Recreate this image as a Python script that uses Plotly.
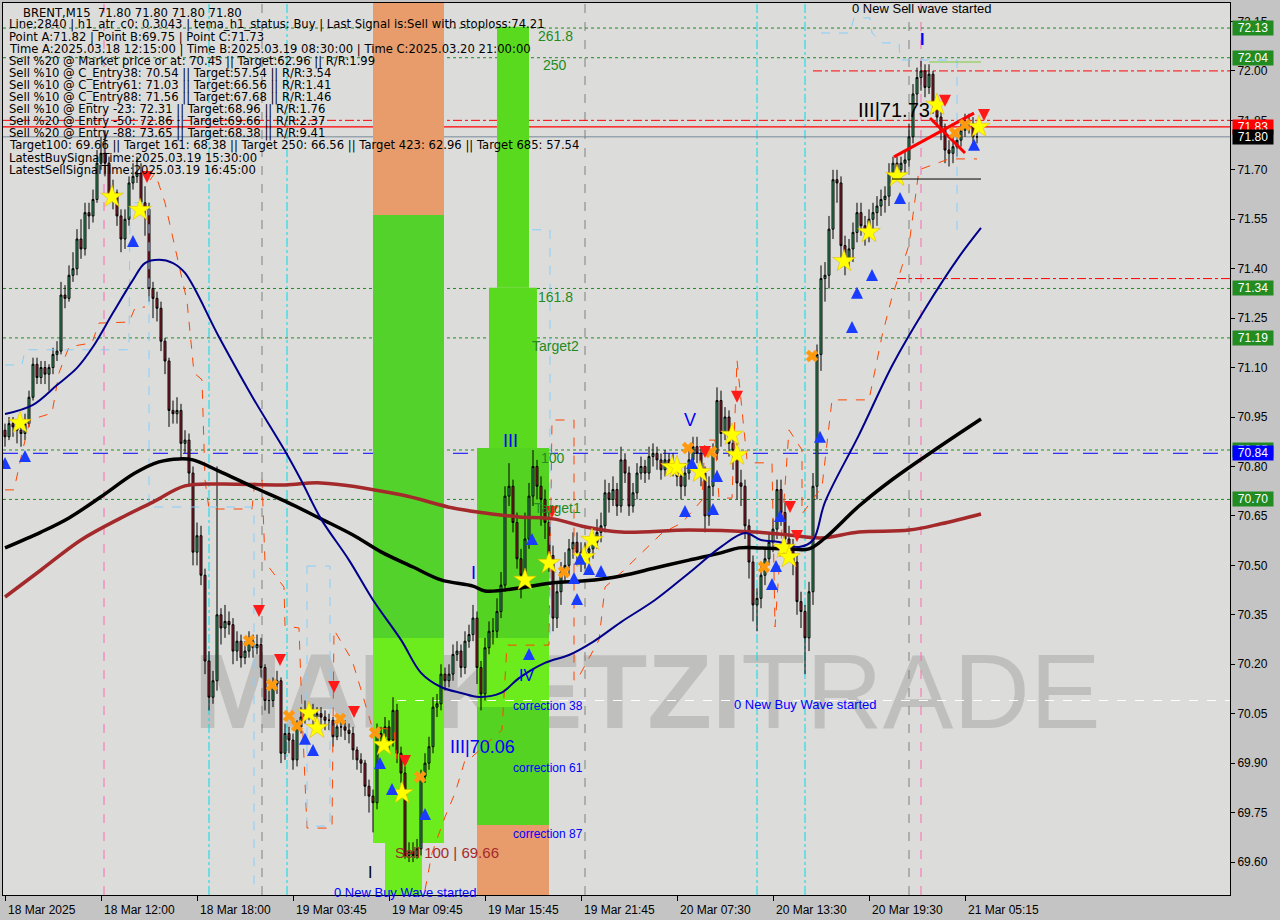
import plotly.graph_objects as go

# ---------------- DATA ----------------
first_open = 70.91
close = [70.89,70.93,70.92,70.91,70.90,70.93,71.01,71.11,71.07,71.10,
         71.08,71.10,71.14,71.15,71.32,71.31,71.38,71.40,71.49,71.46,
         71.57,71.56,71.61,71.72,71.75,71.72,71.62,71.63,71.56,71.49,
         71.55,71.66,71.68,71.69,71.60,71.58,71.34,71.31,71.28,71.18,
         71.12,70.97,70.96,70.97,70.87,70.88,70.78,70.54,70.59,70.47,
         70.21,70.10,70.15,70.35,70.31,70.33,70.32,70.24,70.27,70.22,
         70.24,70.27,70.25,70.26,70.19,70.09,70.09,70.14,70.15,69.93,
         69.99,69.97,69.91,70.01,70.04,70.06,70.06,70.04,70.05,70.04,
         70.03,70.03,69.98,70.01,70.01,70.00,69.99,69.94,69.91,69.90,
         69.83,69.80,69.78,69.99,69.98,70.01,69.97,70.06,69.93,69.87,
         69.62,69.63,69.62,69.64,69.86,69.90,69.95,70.07,70.08,70.17,
         70.15,70.17,70.23,70.24,70.19,70.27,70.29,70.34,70.19,70.11,
         70.25,70.30,70.30,70.36,70.44,70.71,70.74,70.63,70.52,70.47,
         70.58,70.71,70.80,70.74,70.70,70.63,70.53,70.34,70.42,70.48,
         70.50,70.55,70.57,70.54,70.52,70.54,70.55,70.57,70.60,70.62,
         70.72,70.70,70.73,70.68,70.82,70.78,70.68,70.72,70.78,70.80,
         70.78,70.83,70.84,70.82,70.79,70.82,70.81,70.80,70.77,70.74,
         70.78,70.82,70.86,70.84,70.78,70.65,70.74,70.84,71.00,70.90,
         70.95,70.87,70.85,70.75,70.74,70.62,70.51,70.38,70.40,70.47,
         70.52,70.57,70.61,70.73,70.66,70.58,70.56,70.51,70.39,70.36,
         70.28,70.42,70.74,71.14,71.37,71.38,71.52,71.67,71.66,71.47,
         71.43,71.46,71.51,71.57,71.53,71.51,71.55,71.57,71.59,71.61,
         71.62,71.69,71.72,71.70,71.72,71.73,71.80,71.93,71.98,72.00,
         71.95,71.99,71.90,71.86,71.82,71.76,71.75,71.77,71.79,71.82,
         71.84,71.84,71.80,71.80]
high = [70.93,70.95,70.95,70.94,70.93,70.96,71.03,71.13,71.13,71.12,
        71.12,71.11,71.16,71.18,71.36,71.35,71.41,71.45,71.52,71.55,
        71.60,71.60,71.64,71.76,71.80,71.82,71.74,71.67,71.64,71.58,
        71.58,71.68,71.72,71.74,71.72,71.65,71.60,71.36,71.33,71.30,
        71.19,71.13,71.00,71.01,70.99,70.91,70.90,70.80,70.63,70.62,
        70.49,70.24,70.18,70.80,70.37,70.38,70.36,70.34,70.30,70.29,
        70.27,70.30,70.29,70.29,70.28,70.20,70.12,70.16,70.18,70.16,
        70.02,70.01,69.99,70.03,70.07,70.09,70.08,70.08,70.07,70.07,
        70.06,70.05,70.04,70.03,70.03,70.03,70.02,70.01,69.95,69.93,
        69.91,69.85,69.82,70.02,70.01,70.04,70.03,70.10,70.08,69.95,
        69.89,69.66,69.66,69.67,69.88,69.93,69.98,70.10,70.11,70.20,
        70.19,70.20,70.26,70.27,70.26,70.30,70.32,70.38,70.36,70.21,
        70.28,70.33,70.34,70.40,70.48,70.74,70.81,70.76,70.66,70.55,
        70.66,70.75,70.85,70.82,70.77,70.73,70.66,70.56,70.45,70.51,
        70.54,70.58,70.60,70.60,70.57,70.57,70.58,70.60,70.64,70.66,
        70.76,70.75,70.77,70.75,70.86,70.84,70.80,70.75,70.81,70.83,
        70.82,70.86,70.87,70.86,70.84,70.85,70.84,70.84,70.82,70.79,
        70.81,70.85,70.89,70.89,70.86,70.80,70.77,70.87,71.04,71.03,
        70.98,70.97,70.90,70.87,70.79,70.76,70.64,70.53,70.43,70.50,
        70.55,70.60,70.64,70.76,70.76,70.69,70.62,70.58,70.53,70.42,
        70.38,70.45,70.78,71.17,71.41,71.42,71.56,71.70,71.70,71.68,
        71.50,71.49,71.54,71.60,71.60,71.56,71.58,71.60,71.62,71.64,
        71.65,71.72,71.74,71.74,71.74,71.76,71.84,71.96,72.01,72.03,
        72.02,72.02,72.00,71.92,71.88,71.84,71.79,71.80,71.82,71.84,
        71.87,71.87,71.86,71.83]
low = [70.86,70.88,70.89,70.87,70.86,70.88,70.92,71.00,71.05,71.05,
       71.05,71.03,71.08,71.12,71.14,71.28,71.30,71.36,71.38,71.43,
       71.44,71.52,71.54,71.60,71.70,71.68,71.60,71.58,71.53,71.45,
       71.46,71.53,71.64,71.66,71.57,71.50,71.30,71.25,71.24,71.15,
       71.08,70.92,70.93,70.93,70.82,70.84,70.74,70.50,70.50,70.44,
       70.17,70.06,70.08,70.12,70.26,70.28,70.29,70.20,70.21,70.19,
       70.20,70.22,70.22,70.23,70.16,70.06,70.05,70.07,70.11,69.90,
       69.91,69.93,69.88,69.89,69.99,70.02,70.03,70.01,70.02,70.01,
       70.00,70.00,69.95,69.97,69.98,69.97,69.96,69.91,69.88,69.87,
       69.80,69.75,69.69,69.76,69.94,69.96,69.94,69.95,69.90,69.84,
       69.61,69.60,69.60,69.61,69.62,69.84,69.88,69.93,70.04,70.06,
       70.12,70.13,70.15,70.21,70.16,70.17,70.25,70.27,70.14,70.06,
       70.09,70.23,70.26,70.28,70.34,70.42,70.68,70.60,70.49,70.40,
       70.44,70.55,70.68,70.70,70.62,70.58,70.48,70.30,70.31,70.38,
       70.45,70.47,70.52,70.50,70.48,70.49,70.51,70.52,70.55,70.57,
       70.60,70.66,70.68,70.65,70.66,70.75,70.65,70.66,70.70,70.76,
       70.75,70.76,70.80,70.79,70.76,70.77,70.78,70.77,70.74,70.70,
       70.71,70.76,70.80,70.81,70.74,70.60,70.62,70.71,70.82,70.86,
       70.88,70.83,70.79,70.70,70.68,70.58,70.46,70.33,70.30,70.37,
       70.44,70.50,70.54,70.58,70.62,70.54,70.52,70.47,70.35,70.31,
       70.17,70.24,70.38,70.70,71.09,71.30,71.34,71.49,71.60,71.42,
       71.38,71.40,71.42,71.48,71.50,71.47,71.48,71.52,71.53,71.56,
       71.57,71.59,71.66,71.67,71.68,71.69,71.71,71.78,71.90,71.94,
       71.92,71.93,71.87,71.83,71.79,71.72,71.71,71.72,71.74,71.77,
       71.80,71.81,71.78,71.78]

tick_idx = [0, 24, 48, 72, 96, 120, 144, 168, 192, 216, 240]
tick_text = ["18 Mar 2025", "18 Mar 12:00", "18 Mar 18:00", "19 Mar 03:45", "19 Mar 09:45",
             "19 Mar 15:45", "19 Mar 21:45", "20 Mar 07:30", "20 Mar 13:30", "20 Mar 19:30",
             "21 Mar 05:15"]
price_ticks = [69.60, 69.75, 69.90, 70.05, 70.20, 70.35, 70.50, 70.65, 70.80, 70.95,
               71.10, 71.25, 71.40, 71.55, 71.70, 71.85, 72.00, 72.15]

# moving averages (bar index, price)
ma_blue_x = [0,7,13,18,22,27,32,35,38.5,42,45,53.5,62,70,74,79,86,92,99,104,109,114,118.5,
             124,128.5,135,141,147,154,162.5,171,179,185,189,193.5,198.5,202,205,213.5,222,230,238.5,244]
ma_blue_y = [70.959,70.987,71.047,71.099,71.163,71.266,71.366,71.417,71.427,71.417,71.387,71.193,
             71.008,70.847,70.759,70.641,70.516,70.395,70.274,70.174,70.131,70.113,70.101,70.113,
             70.158,70.204,70.228,70.268,70.328,70.395,70.477,70.556,70.598,70.577,70.571,70.556,
             70.577,70.692,70.896,71.111,71.278,71.436,71.524]
ma_black_x = [0,9,16,24,32.5,38.5,43.5,47,53.5,62,70,79,87,94,102,109,117,120,128.5,137,145,154,
              162.5,171,179,183.5,189,196,201,205,213.5,222,233.5,244]
ma_black_y = [70.553,70.601,70.644,70.708,70.780,70.814,70.823,70.820,70.786,70.738,70.695,70.641,
              70.592,70.541,70.495,70.456,70.437,70.422,70.431,70.447,70.453,70.468,70.492,70.516,
              70.538,70.553,70.553,70.550,70.550,70.583,70.680,70.762,70.859,70.944]
ma_red_x = [0,9,19,29,37,45,53.5,70,79,99,112,120,128.5,137,145,154,171,187.5,196,204,213.5,226,234,244]
ma_red_y = [70.404,70.486,70.577,70.644,70.692,70.741,70.747,70.744,70.750,70.714,70.674,70.659,
            70.647,70.641,70.617,70.601,70.607,70.601,70.592,70.583,70.601,70.607,70.626,70.656]

# trailing-stop style step line (orange dashed)
stop_x = [0,2.25,4.25,6.25,11.75,13.5,16,21.75,23.5,31,32.5,35,None,
          36.25,37.5,40,43.5,45.5,47.25,49.25,50,51,61.75,62.5,64.25,65,69.75,70,73.5,74.25,75.5,81.75,
          82.25,86.75,89.25,91.75,97.25,98,100,None,
          105,106.75,110,112.5,115,116.75,124.25,125.5,136,136.75,142.25,142.25,143,146.75,148.5,150,
          154.25,164.25,169.25,174.25,175,177.5,178.5,181.75,183,185.5,187.25,191.75,192.5,196,199.25,
          199.25,204.25,206.75,216,219.25,221.75,226,228.5,236,243]
stop_y = [70.729,70.729,70.841,70.941,70.962,71.084,71.163,71.175,71.235,71.238,71.281,71.284,None,
          71.669,71.691,71.600,71.408,71.302,71.084,71.063,70.759,70.671,70.671,70.759,70.759,70.510,
          70.434,70.316,70.310,70.055,69.703,69.703,70.304,70.213,70.113,70.010,70.001,69.909,69.909,None,
          69.515,69.627,69.737,69.809,69.909,69.919,70.001,70.258,70.258,70.941,70.941,70.152,70.152,
          70.234,70.274,70.434,70.480,70.598,70.629,70.698,70.880,70.880,70.704,70.704,71.123,70.820,
          70.811,70.811,70.313,70.911,70.850,70.656,70.738,71.002,71.002,71.196,71.314,71.472,71.700,
          71.733,71.733]
# light blue dashed envelope segments
env_x = [0,4.25,5,31,31.25,36,36,62.25,62.25,None,
         75.5,81.25,81.25,75.5,75.5,None,
         131.75,136.25,136.25,None,
         204,211.25,212.25,216.25,216.75,219.25,223.5,223.75,238,238]
env_y = [71.108,71.108,71.154,71.154,71.600,71.600,70.677,70.677,69.515,None,
         70.498,70.498,69.709,69.709,70.498,None,
         71.518,71.518,70.274,None,
         72.115,72.115,72.161,72.161,72.115,72.085,72.085,72.033,72.033,71.518]

# signal markers (bar index, price)
star_x = [3.75,26.75,33.75,76,78,94.75,99.25,130,136,144.75,146.75,166.75,168,173.75,181.75,183,
          194.75,196,209.75,216,223,233,243.5]
star_y = [70.932,71.618,71.578,70.052,70.007,69.955,69.809,70.456,70.507,70.525,70.577,70.798,
          70.798,70.783,70.896,70.835,70.553,70.525,71.423,71.511,71.681,71.897,71.830]
buy_x = [0,5,32,75,77,93.75,96.75,105,131.75,131,142.25,143,143.75,146,149,171.75,178,170,177,
         193.75,192.75,191.75,203.75,211.75,213,216.75,223.75,242.25]
buy_y = [70.829,70.850,71.502,69.992,69.958,69.919,69.840,69.764,70.598,70.249,70.480,70.416,
         70.538,70.507,70.501,70.829,70.789,70.683,70.689,70.668,70.516,70.462,70.908,71.241,
         71.345,71.399,71.633,71.794]
sell_x = [35.5,63.5,68.75,82.25,87.25,100,136.75,183,175,196.25,198,235,244.75]
sell_y = [71.660,70.343,70.195,70.113,70.037,69.888,70.644,70.993,70.826,70.659,70.571,71.891,71.848]
cross_x = [61,66.75,71,73,83.75,92.5,103.75,139.75,170.75,176.5,189.75,201.75,237.5,240]
cross_y = [70.271,70.137,70.043,70.013,70.034,69.992,69.858,70.480,70.856,70.844,70.495,71.135,
           71.812,71.836]

# horizontal levels
green_levels = [72.13, 72.04, 71.34, 71.19, 70.85, 70.70]
blue_level = 70.84
red_dashdot_full = 71.85
red_solid = 71.83
last_price = 71.80
red_dashdot_part = [(202, 72.00), (223, 71.37)]
white_dash = (98, 70.09)

# zone rectangles: (x0, x1, y0, y1, color)
zones = [
    (92, 109.75, 71.563, 72.206, "#e89c6c"),
    (92, 109.75, 70.280, 71.563, "#52d22a"),
    (92, 109.75, 69.658, 70.280, "#6cec1c"),
    (95, 104.25, 69.50, 69.658, "#6cec1c"),
    (123, 131, 71.342, 72.134, "#5ada1e"),
    (121, 133, 70.856, 71.342, "#5ada1e"),
    (118, 136, 69.712, 70.856, "#55d322"),
    (118, 136, 70.07, 70.280, "#6cec1c"),
    (118, 136, 69.50, 69.712, "#e89c6c"),
]
vlines = [(24.75, "#ff69b4", "dash"), (229, "#ff69b4", "dash"),
          (51, "#00dde8", "dashdot"), (70.5, "#00dde8", "dashdot"), (100, "#00dde8", "dashdot"),
          (188, "#00dde8", "dashdot"), (200, "#00dde8", "dashdot"),
          (64.25, "#808080", "dash"), (145, "#808080", "dash"), (226, "#808080", "dash")]

info_lines = [
    "Line:2840 | h1_atr_c0: 0.3043 | tema_h1_status: Buy | Last Signal is:Sell with stoploss:74.21",
    "Point A:71.82 | Point B:69.75 | Point C:71.73",
    "Time A:2025.03.18 12:15:00 | Time B:2025.03.19 08:30:00 | Time C:2025.03.20 21:00:00",
    "Sell %20 @ Market price or at: 70.45 || Target:62.96 || R/R:1.99",
    "Sell %10 @ C_Entry38: 70.54 || Target:57.54 || R/R:3.54",
    "Sell %10 @ C_Entry61: 71.03 || Target:66.56 || R/R:1.41",
    "Sell %10 @ C_Entry88: 71.56 || Target:67.68 || R/R:1.46",
    "Sell %10 @ Entry -23: 72.31 || Target:68.96 || R/R:1.76",
    "Sell %20 @ Entry -50: 72.86 || Target:69.66 || R/R:2.37",
    "Sell %20 @ Entry -88: 73.65 || Target:68.38 || R/R:9.41",
    "Target100: 69.66 || Target 161: 68.38 || Target 250: 66.56 || Target 423: 62.96 || Target 685: 57.54",
    "LatestBuySignalTime:2025.03.19 15:30:00",
    "LatestSellSignalTime:2025.03.19 16:45:00",
]

# chart labels: (x idx, price, text, color, size)
chart_texts = [
    (137.5, 72.106, "261.8", "#228b22", 14), (137.5, 72.018, "250", "#228b22", 14),
    (137.5, 71.314, "161.8", "#228b22", 14), (137.5, 71.166, "Target2", "#228b22", 14),
    (137.0, 70.826, "100", "#228b22", 14), (138.0, 70.674, "Target1", "#228b22", 14),
    (229, 72.188, "0 New Sell wave started", "#000000", 13),
    (229.25, 72.094, "<b>I</b>", "#0000ff", 16),
    (222.25, 71.882, "III|71.73", "#000000", 20),
    (171.25, 70.941, "V", "#0000ff", 18), (126.25, 70.877, "III", "#0000ff", 18),
    (117, 70.477, "I", "#0000ff", 18), (130.25, 70.166, "IV", "#0000ff", 16),
    (135.75, 70.074, "correction 38", "#0000ff", 12),
    (119.25, 69.949, "III|70.06", "#0000ff", 18),
    (135.75, 69.885, "correction 61", "#0000ff", 12),
    (135.75, 69.685, "correction 87", "#0000ff", 12),
    (200, 70.079, "0 New Buy Wave started", "#0000ff", 13),
    (100, 69.509, "0 New Buy Wave started", "#0000ff", 13),
    (110.5, 69.630, "Sell 100 | 69.66", "#a52a2a", 15),
    (91.25, 69.567, "I", "#000000", 16),
]
# sloped wave lines: (x0, y0, x1, y1)
wave_lines = [(222.25, 71.739, 242.25, 71.872), (231.25, 71.857, 240, 71.751)]

# ---------------- FIGURE ----------------
x_idx = list(range(len(close)))
open_ = [first_open] + close[:-1]
high = [max(h, o, c) for h, o, c in zip(high, open_, close)]
low = [min(l, o, c) for l, o, c in zip(low, open_, close)]

fig = go.Figure()
font_main = "Liberation Sans"
font_info = "DejaVu Sans"

fig.add_trace(go.Scatter(x=stop_x, y=stop_y, mode="lines", line=dict(color="#ff4500", width=1, dash="dash"),
                         hoverinfo="skip", connectgaps=False))
fig.add_trace(go.Scatter(x=env_x, y=env_y, mode="lines", line=dict(color="#87cefa", width=1, dash="dash"),
                         hoverinfo="skip", connectgaps=False))
fig.add_trace(go.Scatter(x=ma_red_x, y=ma_red_y, mode="lines", line=dict(color="#a3292b", width=3.5, shape="spline"),
                         hoverinfo="skip"))
fig.add_trace(go.Scatter(x=ma_black_x, y=ma_black_y, mode="lines", line=dict(color="#000000", width=3.5, shape="spline"),
                         hoverinfo="skip"))
fig.add_trace(go.Scatter(x=ma_blue_x, y=ma_blue_y, mode="lines", line=dict(color="#00008b", width=2, shape="spline"),
                         hoverinfo="skip"))

fig.add_trace(go.Candlestick(
    x=x_idx, open=open_, high=high, low=low, close=close,
    increasing=dict(line=dict(color="#000000", width=1), fillcolor="#3cb371"),
    decreasing=dict(line=dict(color="#000000", width=1), fillcolor="#b22234"),
    whiskerwidth=0, hoverinfo="skip"))

for (xa, ya, xb, yb) in wave_lines:
    fig.add_trace(go.Scatter(x=[xa, xb], y=[ya, yb], mode="lines", line=dict(color="#ff0000", width=3),
                             hoverinfo="skip"))

fig.add_trace(go.Scatter(x=cross_x, y=cross_y, mode="markers",
                         marker=dict(symbol="x", size=11, color="#ff9a10", line=dict(width=0)), hoverinfo="skip"))
fig.add_trace(go.Scatter(x=star_x, y=star_y, mode="markers",
                         marker=dict(symbol="star", size=17, color="#ffff00", line=dict(width=0.5, color="#e0b000")),
                         hoverinfo="skip"))
fig.add_trace(go.Scatter(x=buy_x, y=buy_y, mode="markers",
                         marker=dict(symbol="arrow-up", size=12, color="#1a3cff", line=dict(width=0)),
                         hoverinfo="skip"))
fig.add_trace(go.Scatter(x=sell_x, y=sell_y, mode="markers",
                         marker=dict(symbol="arrow-down", size=12, color="#ff1a1a", line=dict(width=0)),
                         hoverinfo="skip"))

shapes = []
for (x0, x1, y0, y1, col) in zones:
    shapes.append(dict(type="rect", xref="x", yref="y", x0=x0, x1=x1, y0=y0, y1=y1,
                       fillcolor=col, line=dict(width=0), layer="below"))
# watermark
shapes.append(dict(type="rect", xref="paper", yref="paper", x0=0.1, x1=0.95, y0=0.19, y1=0.29,
                   line=dict(width=0), fillcolor="rgba(0,0,0,0)", layer="below",
                   label=dict(text="<b>MARKETZI</b>TRADE", textposition="middle center",
                              font=dict(size=106, color="rgba(90,90,90,0.22)", family=font_main))))
for (xv, col, dsh) in vlines:
    shapes.append(dict(type="line", xref="x", yref="paper", x0=xv, x1=xv, y0=0, y1=1,
                       line=dict(color=col, width=1, dash=dsh), layer="below"))
for lv in green_levels:
    shapes.append(dict(type="line", xref="paper", yref="y", x0=0, x1=1, y0=lv, y1=lv,
                       line=dict(color="#228b22", width=1, dash="dot"), layer="below"))
shapes.append(dict(type="line", xref="paper", yref="y", x0=0, x1=1, y0=blue_level, y1=blue_level,
                   line=dict(color="#0000ff", width=1, dash="longdash"), layer="below"))
shapes.append(dict(type="line", xref="paper", yref="y", x0=0, x1=1, y0=red_dashdot_full, y1=red_dashdot_full,
                   line=dict(color="#ff0000", width=1, dash="dashdot"), layer="below"))
shapes.append(dict(type="line", xref="paper", yref="y", x0=0, x1=1, y0=red_solid, y1=red_solid,
                   line=dict(color="#ff0000", width=1.2), layer="below"))
shapes.append(dict(type="line", xref="paper", yref="y", x0=0, x1=1, y0=last_price, y1=last_price,
                   line=dict(color="#778899", width=1), layer="below"))
for (xs, lv) in red_dashdot_part:
    shapes.append(dict(type="line", xref="x", yref="y", x0=xs, x1=306.25, y0=lv, y1=lv,
                       line=dict(color="#ff0000", width=1, dash="dashdot"), layer="below"))
shapes.append(dict(type="line", xref="x", yref="y", x0=white_dash[0], x1=306.25, y0=white_dash[1], y1=white_dash[1],
                   line=dict(color="#ffffff", width=1, dash="dash"), layer="below"))
shapes.append(dict(type="line", xref="x", yref="y", x0=221.75, x1=244, y0=71.672, y1=71.672,
                   line=dict(color="#000000", width=1)))
shapes.append(dict(type="line", xref="x", yref="y", x0=231, x1=244, y0=72.027, y1=72.027,
                   line=dict(color="#7ccd3c", width=1)))

annotations = []
# info text block
annotations.append(dict(xref="paper", yref="paper", x=0.0147, y=(895 - 13) / 892, xanchor="left", yanchor="middle",
                        text="BRENT,M15  71.80 71.80 71.80 71.80", showarrow=False,
                        font=dict(size=11.6, color="#000000", family=font_info)))
for k, line in enumerate(info_lines):
    ypx = 25 + 12.1 * k
    annotations.append(dict(xref="paper", yref="paper", x=0.0033, y=(895 - ypx) / 892, xanchor="left",
                            yanchor="middle", text=line, showarrow=False,
                            font=dict(size=11.6, color="#000000", family=font_info)))
for (xt, yt, txt, col, sz) in chart_texts:
    annotations.append(dict(xref="x", yref="y", x=xt, y=yt, text=txt, showarrow=False,
                            font=dict(size=sz, color=col, family=font_main)))
# x tick labels (left aligned at tick)
for ti, tt in zip(tick_idx, tick_text):
    annotations.append(dict(xref="x", yref="paper", x=ti, y=0, yshift=-6, xanchor="left", yanchor="top",
                            text=tt, showarrow=False, xshift=1,
                            font=dict(size=12, color="#000000", family=font_main)))
# right-side price labels
price_boxes = [(lv, "#228b22") for lv in green_levels] + [(blue_level, "#0000ff"), (red_solid, "#ff0000"),
                                                          (last_price, "#000000")]
for (lv, col) in price_boxes:
    annotations.append(dict(xref="paper", yref="y", x=1, xshift=2, y=lv, xanchor="left", yanchor="middle",
                            text=f"{lv:.2f}", showarrow=False, bgcolor=col, width=40, height=14,
                            borderpad=0, align="center",
                            font=dict(size=12, color="#ffffff", family=font_main)))

fig.update_layout(
    width=1280, height=920,
    margin=dict(l=3, r=50, t=3, b=25),
    paper_bgcolor="#c4c4c4", plot_bgcolor="#dcdcda",
    showlegend=False,
    shapes=shapes, annotations=annotations,
    xaxis=dict(range=[-0.5, 306.25], showgrid=False, zeroline=False, rangeslider=dict(visible=False),
               tickmode="array", tickvals=tick_idx, ticks="outside", ticklen=5, tickcolor="#000000",
               showticklabels=False, showline=True, mirror=True, linecolor="#000000", linewidth=1),
    yaxis=dict(range=[69.50, 72.206], side="right", showgrid=False, zeroline=False,
               tickmode="array", tickvals=price_ticks, ticktext=[f"{v:.2f}" for v in price_ticks],
               ticks="outside", ticklen=4, tickcolor="#000000",
               tickfont=dict(size=12, color="#000000", family=font_main),
               showline=True, mirror=True, linecolor="#000000", linewidth=1),
    font=dict(family=font_main),
)

fig.write_html("out.html", config={"displayModeBar": False},
               post_script="document.body.style.margin='0';")
